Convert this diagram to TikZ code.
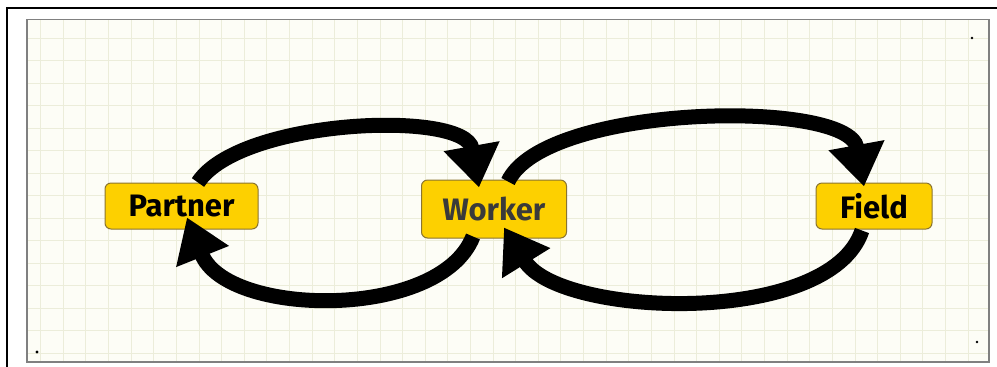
\documentclass[tikz,border=0pt]{standalone}
\usepackage{fontspec}
\setmainfont{Fira Sans}
\usetikzlibrary{arrows.meta, calc}
\definecolor{boxgold}{HTML}{FDD000}
\definecolor{boxedge}{HTML}{8A7430}
\definecolor{paper}{HTML}{FDFDF6}
\definecolor{gridline}{HTML}{ECEDDA}
\definecolor{workertext}{HTML}{3A3A3A}

\begin{document}
\begin{tikzpicture}[x=0.5pt, y=-0.5pt,
    stagebox/.style={fill=boxgold, draw=boxedge, line width=0.5pt, rounded corners=3pt,
      inner sep=0pt, minimum height=23pt, font=\fontsize{15.5}{18}\selectfont\bfseries},
    flow/.style={line width=7.5pt, -{Triangle[length=21pt, width=27pt]}}]
  \useasboundingbox (0,0) rectangle (997,366);

  % frame and grid paper
  \draw[line width=1pt] (7,380) -- (7,8) -- (1010,8);
  \fill[paper] (27,19.5) rectangle (989,362);
  \foreach \x in {0,...,41}
    \draw[gridline, line width=0.5pt] ({40.7+22.62*\x},19.5) -- ++(0,342.5);
  \foreach \y in {0,...,14}
    \draw[gridline, line width=0.5pt] (27,{38.3+22.5*\y}) -- ++(962,0);
  \draw[gray, line width=0.6pt] (27,19.5) rectangle (989,362);
  \fill (37,352) circle (0.8pt);
  \fill (972,38) circle (0.7pt);
  \fill (977,342) circle (0.7pt);

  % boxes
  \node[stagebox, minimum width=76.5pt] (partner) at (181.5,206) {Partner};
  \node[stagebox, minimum width=72.5pt, minimum height=29pt, text=workertext] (worker) at (494,209) {Worker};
  \node[stagebox, minimum width=58pt] (field) at (874,206) {Field};

  % loops
  \draw[flow] ($(partner.north)+(16.5,0)$) .. controls +(42,-64) and +(-14,-78) .. ($(worker.north)+(-15,8)$);
  \draw[flow] ($(worker.south)+(-21,-2)$) .. controls +(-33,84) and +(40,100) .. ($(partner.south)+(5.5,-12)$);
  \draw[flow] ($(worker.north)+(14,2)$) .. controls +(37,-78) and +(-16,-88) .. ($(field.north)+(-10,4)$);
  \draw[flow] ($(field.south)+(-12,1)$) .. controls +(-32,97) and +(56,90) .. ($(worker.south)+(10,-11)$);
\end{tikzpicture}
\end{document}
